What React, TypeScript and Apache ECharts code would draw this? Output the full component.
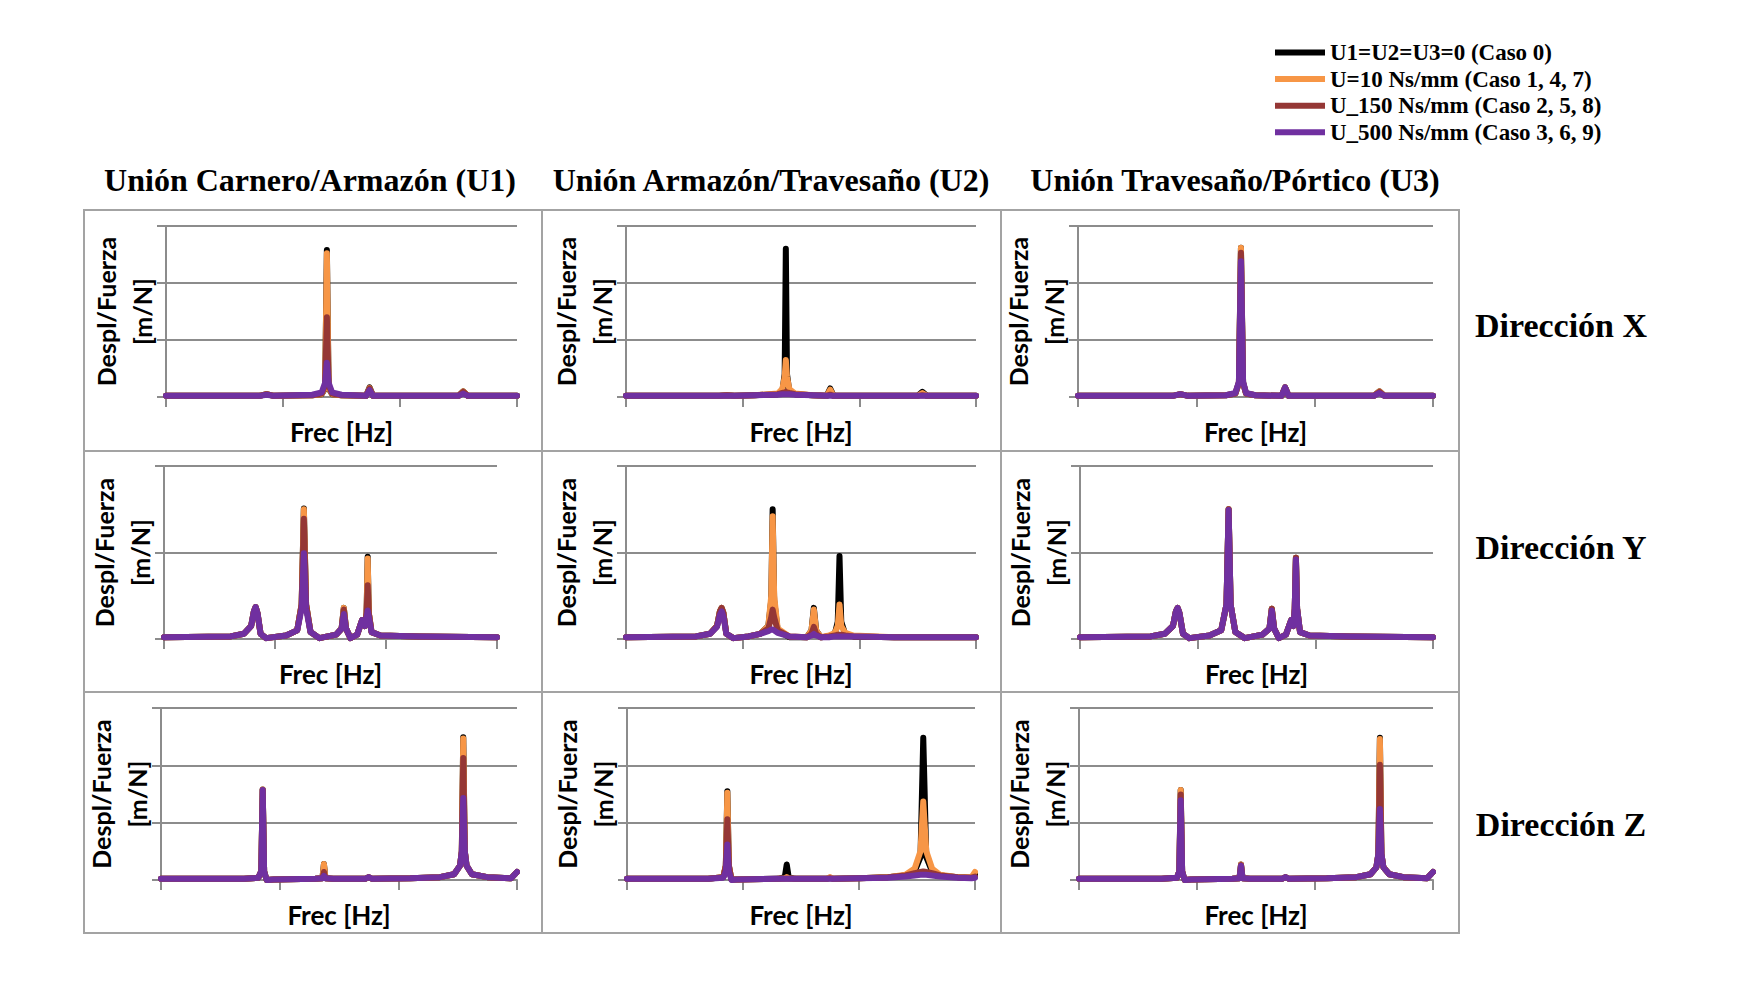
import React, { useEffect, useRef } from "react";
import * as echarts from "echarts";

// ---------- labels ----------
const SERIES_NAMES = [
  "U1=U2=U3=0 (Caso 0)",
  "U=10 Ns/mm (Caso 1, 4, 7)",
  "U_150 Ns/mm (Caso 2, 5, 8)",
  "U_500 Ns/mm (Caso 3, 6, 9)",
];
const SERIES_COLORS = ["#000000", "#F79646", "#953735", "#7030A0"];
const COLUMN_TITLES = ["Unión Carnero/Armazón (U1)", "Unión Armazón/Travesaño (U2)", "Unión Travesaño/Pórtico (U3)"];
const ROW_TITLES = ["Dirección X", "Dirección Y", "Dirección Z"];
const X_AXIS_NAME = "Frec [Hz]";
const Y_AXIS_NAME = "Despl/Fuerza\n[m/N]";
const Y_MAX_BY_ROW = [3, 2, 3];
const X_MAX = 3;

// ---------- Dirección X ----------
const freqXU1 = [0, 0.80, 0.86, 0.92, 1.25, 1.33, 1.36, 1.375, 1.39, 1.42, 1.50, 1.71, 1.74, 1.77, 2.50, 2.54, 2.58, 3];
const xU1Caso0 = [0.02, 0.02, 0.05, 0.02, 0.03, 0.05, 0.15, 2.58, 0.15, 0.05, 0.03, 0.02, 0.17, 0.02, 0.02, 0.10, 0.02, 0.02];
const xU1U10 = [0.02, 0.02, 0.05, 0.02, 0.03, 0.05, 0.16, 2.52, 0.16, 0.05, 0.03, 0.02, 0.16, 0.02, 0.02, 0.10, 0.02, 0.02];
const xU1U150 = [0.02, 0.02, 0.05, 0.02, 0.03, 0.06, 0.20, 1.40, 0.20, 0.06, 0.03, 0.02, 0.15, 0.02, 0.02, 0.09, 0.02, 0.02];
const xU1U500 = [0.02, 0.02, 0.04, 0.02, 0.04, 0.08, 0.25, 0.60, 0.25, 0.08, 0.04, 0.02, 0.12, 0.02, 0.02, 0.06, 0.02, 0.02];

const freqXU2 = [0, 0.80, 0.865, 0.93, 1.10, 1.30, 1.34, 1.36, 1.37, 1.38, 1.40, 1.45, 1.60, 1.72, 1.75, 1.78, 2.00, 2.50, 2.54, 2.58, 3];
const xU2Caso0 = [0.02, 0.02, 0.03, 0.02, 0.03, 0.05, 0.10, 0.40, 2.60, 0.40, 0.10, 0.05, 0.03, 0.02, 0.15, 0.02, 0.02, 0.02, 0.09, 0.02, 0.02];
const xU2U10 = [0.02, 0.02, 0.03, 0.02, 0.03, 0.06, 0.14, 0.35, 0.65, 0.35, 0.14, 0.06, 0.03, 0.02, 0.13, 0.02, 0.02, 0.02, 0.07, 0.02, 0.02];
const xU2U150 = [0.02, 0.02, 0.03, 0.02, 0.03, 0.05, 0.07, 0.08, 0.09, 0.08, 0.07, 0.05, 0.03, 0.02, 0.04, 0.02, 0.02, 0.02, 0.03, 0.02, 0.02];
const xU2U500 = [0.02, 0.02, 0.02, 0.02, 0.03, 0.04, 0.05, 0.05, 0.05, 0.05, 0.05, 0.04, 0.03, 0.02, 0.02, 0.02, 0.02, 0.02, 0.02, 0.02, 0.02];

const freqXU3 = [0, 0.80, 0.865, 0.93, 1.25, 1.33, 1.36, 1.377, 1.395, 1.42, 1.50, 1.72, 1.75, 1.78, 2.50, 2.547, 2.59, 3];
const xU3Caso0 = [0.02, 0.02, 0.05, 0.02, 0.03, 0.06, 0.25, 2.62, 0.25, 0.06, 0.03, 0.02, 0.17, 0.02, 0.02, 0.10, 0.02, 0.02];
const xU3U10 = [0.02, 0.02, 0.05, 0.02, 0.03, 0.06, 0.25, 2.62, 0.25, 0.06, 0.03, 0.02, 0.17, 0.02, 0.02, 0.10, 0.02, 0.02];
const xU3U150 = [0.02, 0.02, 0.05, 0.02, 0.03, 0.06, 0.25, 2.53, 0.25, 0.06, 0.03, 0.02, 0.17, 0.02, 0.02, 0.09, 0.02, 0.02];
const xU3U500 = [0.02, 0.02, 0.05, 0.02, 0.03, 0.07, 0.27, 2.38, 0.27, 0.07, 0.03, 0.02, 0.17, 0.02, 0.02, 0.07, 0.02, 0.02];

// ---------- Dirección Y ----------
const freqYU1 = [0, 0.60, 0.72, 0.785, 0.81, 0.826, 0.842, 0.87, 0.92, 1.10, 1.20, 1.24, 1.26, 1.28, 1.32, 1.40, 1.55, 1.60, 1.62, 1.64, 1.68, 1.74, 1.785, 1.81, 1.825, 1.835, 1.845, 1.87, 1.95, 2.30, 3];
const yU1Caso0 = [0.02, 0.03, 0.06, 0.15, 0.32, 0.37, 0.30, 0.06, 0.01, 0.04, 0.10, 0.40, 1.51, 0.40, 0.08, 0.01, 0.05, 0.12, 0.36, 0.12, 0.01, 0.05, 0.22, 0.15, 0.30, 0.95, 0.30, 0.08, 0.04, 0.03, 0.02];
const yU1U10 = [0.02, 0.03, 0.06, 0.15, 0.32, 0.37, 0.30, 0.06, 0.01, 0.04, 0.10, 0.40, 1.50, 0.40, 0.08, 0.01, 0.05, 0.12, 0.36, 0.12, 0.01, 0.05, 0.22, 0.15, 0.30, 0.93, 0.30, 0.08, 0.04, 0.03, 0.02];
const yU1U150 = [0.02, 0.03, 0.06, 0.15, 0.32, 0.37, 0.30, 0.06, 0.01, 0.04, 0.10, 0.40, 1.39, 0.40, 0.08, 0.01, 0.05, 0.12, 0.34, 0.12, 0.01, 0.05, 0.22, 0.15, 0.30, 0.62, 0.30, 0.08, 0.04, 0.03, 0.02];
const yU1U500 = [0.02, 0.03, 0.06, 0.15, 0.32, 0.37, 0.30, 0.06, 0.01, 0.04, 0.10, 0.35, 0.99, 0.35, 0.08, 0.01, 0.05, 0.12, 0.29, 0.12, 0.01, 0.05, 0.22, 0.15, 0.25, 0.33, 0.25, 0.08, 0.04, 0.03, 0.02];

const freqYU2 = [0, 0.60, 0.72, 0.78, 0.805, 0.82, 0.835, 0.86, 0.92, 1.05, 1.15, 1.22, 1.245, 1.257, 1.27, 1.30, 1.40, 1.55, 1.59, 1.61, 1.63, 1.67, 1.74, 1.79, 1.815, 1.83, 1.845, 1.88, 1.95, 2.30, 3];
const yU2Caso0 = [0.02, 0.03, 0.06, 0.15, 0.32, 0.36, 0.30, 0.06, 0.01, 0.03, 0.06, 0.15, 0.45, 1.50, 0.45, 0.10, 0.02, 0.02, 0.10, 0.36, 0.10, 0.02, 0.03, 0.06, 0.20, 0.96, 0.20, 0.05, 0.03, 0.02, 0.02];
const yU2U10 = [0.02, 0.03, 0.06, 0.15, 0.32, 0.36, 0.30, 0.06, 0.01, 0.03, 0.06, 0.15, 0.50, 1.42, 0.50, 0.12, 0.03, 0.02, 0.10, 0.34, 0.10, 0.02, 0.04, 0.07, 0.15, 0.40, 0.15, 0.07, 0.04, 0.02, 0.02];
const yU2U150 = [0.02, 0.03, 0.06, 0.15, 0.32, 0.36, 0.30, 0.06, 0.01, 0.03, 0.06, 0.12, 0.25, 0.34, 0.25, 0.10, 0.03, 0.02, 0.06, 0.14, 0.06, 0.02, 0.03, 0.04, 0.05, 0.05, 0.05, 0.04, 0.03, 0.02, 0.02];
const yU2U500 = [0.02, 0.03, 0.06, 0.14, 0.28, 0.32, 0.26, 0.06, 0.01, 0.03, 0.06, 0.09, 0.11, 0.11, 0.10, 0.07, 0.03, 0.02, 0.04, 0.06, 0.04, 0.02, 0.02, 0.03, 0.03, 0.03, 0.03, 0.03, 0.03, 0.02, 0.02];

const freqYU3 = [0, 0.60, 0.72, 0.79, 0.815, 0.83, 0.845, 0.875, 0.93, 1.10, 1.20, 1.245, 1.263, 1.28, 1.32, 1.40, 1.55, 1.61, 1.63, 1.65, 1.69, 1.75, 1.795, 1.815, 1.825, 1.835, 1.845, 1.87, 1.95, 2.30, 3];
const yU3Caso0 = [0.02, 0.03, 0.06, 0.15, 0.32, 0.36, 0.30, 0.06, 0.01, 0.04, 0.10, 0.40, 1.50, 0.40, 0.08, 0.01, 0.05, 0.12, 0.35, 0.12, 0.01, 0.05, 0.22, 0.15, 0.35, 0.94, 0.35, 0.08, 0.04, 0.03, 0.02];
const yU3U10 = [0.02, 0.03, 0.06, 0.15, 0.32, 0.36, 0.30, 0.06, 0.01, 0.04, 0.10, 0.40, 1.50, 0.40, 0.08, 0.01, 0.05, 0.12, 0.35, 0.12, 0.01, 0.05, 0.22, 0.15, 0.35, 0.94, 0.35, 0.08, 0.04, 0.03, 0.02];
const yU3U150 = [0.02, 0.03, 0.06, 0.15, 0.32, 0.36, 0.30, 0.06, 0.01, 0.04, 0.10, 0.40, 1.50, 0.40, 0.08, 0.01, 0.05, 0.12, 0.35, 0.12, 0.01, 0.05, 0.22, 0.15, 0.35, 0.94, 0.35, 0.08, 0.04, 0.03, 0.02];
const yU3U500 = [0.02, 0.03, 0.06, 0.15, 0.32, 0.36, 0.30, 0.06, 0.01, 0.04, 0.10, 0.40, 1.49, 0.40, 0.08, 0.01, 0.05, 0.12, 0.33, 0.12, 0.01, 0.05, 0.22, 0.15, 0.35, 0.92, 0.35, 0.08, 0.04, 0.03, 0.02];

// ---------- Dirección Z ----------
const freqZU1 = [0, 0.70, 0.82, 0.845, 0.857, 0.869, 0.89, 0.95, 1.30, 1.36, 1.373, 1.386, 1.45, 1.72, 1.75, 1.78, 2.10, 2.35, 2.47, 2.52, 2.535, 2.547, 2.56, 2.575, 2.62, 2.75, 2.95, 3];
const zU1Caso0 = [0.02, 0.02, 0.04, 0.15, 1.58, 0.15, 0.00, 0.01, 0.02, 0.03, 0.28, 0.03, 0.02, 0.02, 0.05, 0.02, 0.03, 0.05, 0.10, 0.25, 0.50, 2.49, 0.50, 0.25, 0.10, 0.05, 0.03, 0.14];
const zU1U10 = [0.02, 0.02, 0.04, 0.15, 1.58, 0.15, 0.00, 0.01, 0.02, 0.03, 0.28, 0.03, 0.02, 0.02, 0.05, 0.02, 0.03, 0.05, 0.10, 0.25, 0.50, 2.47, 0.50, 0.25, 0.10, 0.05, 0.03, 0.14];
const zU1U150 = [0.02, 0.02, 0.04, 0.15, 1.57, 0.15, 0.00, 0.01, 0.02, 0.03, 0.14, 0.03, 0.02, 0.02, 0.05, 0.02, 0.03, 0.05, 0.10, 0.25, 0.50, 2.13, 0.50, 0.25, 0.10, 0.05, 0.03, 0.14];
const zU1U500 = [0.02, 0.02, 0.04, 0.15, 1.57, 0.15, 0.00, 0.01, 0.02, 0.03, 0.07, 0.03, 0.02, 0.02, 0.05, 0.02, 0.03, 0.05, 0.10, 0.25, 0.50, 1.43, 0.50, 0.25, 0.10, 0.05, 0.03, 0.14];

const freqZU2 = [0, 0.70, 0.83, 0.852, 0.865, 0.878, 0.90, 0.95, 1.30, 1.36, 1.377, 1.394, 1.45, 1.72, 1.75, 1.78, 2.00, 2.25, 2.40, 2.48, 2.53, 2.554, 2.58, 2.63, 2.70, 2.85, 2.97, 3];
const zU2Caso0 = [0.02, 0.02, 0.05, 0.25, 1.55, 0.25, 0.01, 0.01, 0.02, 0.05, 0.27, 0.05, 0.02, 0.02, 0.04, 0.02, 0.03, 0.05, 0.08, 0.15, 0.40, 2.48, 0.40, 0.15, 0.08, 0.05, 0.04, 0.10];
const zU2U10 = [0.02, 0.02, 0.05, 0.25, 1.52, 0.25, 0.01, 0.01, 0.02, 0.03, 0.05, 0.03, 0.02, 0.02, 0.05, 0.02, 0.03, 0.05, 0.09, 0.20, 0.50, 1.37, 0.50, 0.20, 0.09, 0.05, 0.05, 0.14];
const zU2U150 = [0.02, 0.02, 0.05, 0.25, 1.06, 0.25, 0.01, 0.01, 0.02, 0.02, 0.02, 0.02, 0.02, 0.02, 0.03, 0.02, 0.03, 0.05, 0.08, 0.12, 0.14, 0.15, 0.14, 0.12, 0.08, 0.05, 0.04, 0.06];
const zU2U500 = [0.02, 0.02, 0.04, 0.15, 0.62, 0.15, 0.00, 0.01, 0.02, 0.02, 0.02, 0.02, 0.02, 0.02, 0.02, 0.02, 0.03, 0.04, 0.06, 0.08, 0.09, 0.09, 0.09, 0.08, 0.06, 0.04, 0.03, 0.04];

const freqZU3 = [0, 0.70, 0.83, 0.85, 0.862, 0.874, 0.895, 0.95, 1.30, 1.36, 1.373, 1.386, 1.45, 1.72, 1.75, 1.78, 2.10, 2.35, 2.47, 2.52, 2.537, 2.55, 2.563, 2.58, 2.63, 2.75, 2.95, 3];
const zU3Caso0 = [0.02, 0.02, 0.04, 0.15, 1.57, 0.15, 0.00, 0.01, 0.02, 0.03, 0.27, 0.03, 0.02, 0.02, 0.05, 0.02, 0.03, 0.05, 0.10, 0.22, 0.45, 2.48, 0.45, 0.22, 0.10, 0.05, 0.03, 0.14];
const zU3U10 = [0.02, 0.02, 0.04, 0.15, 1.57, 0.15, 0.00, 0.01, 0.02, 0.03, 0.27, 0.03, 0.02, 0.02, 0.05, 0.02, 0.03, 0.05, 0.10, 0.22, 0.45, 2.46, 0.45, 0.22, 0.10, 0.05, 0.03, 0.14];
const zU3U150 = [0.02, 0.02, 0.04, 0.15, 1.49, 0.15, 0.00, 0.01, 0.02, 0.03, 0.26, 0.03, 0.02, 0.02, 0.05, 0.02, 0.03, 0.05, 0.10, 0.22, 0.45, 2.01, 0.45, 0.22, 0.10, 0.05, 0.03, 0.14];
const zU3U500 = [0.02, 0.02, 0.04, 0.15, 1.39, 0.15, 0.00, 0.01, 0.02, 0.03, 0.25, 0.03, 0.02, 0.02, 0.05, 0.02, 0.03, 0.05, 0.10, 0.22, 0.45, 1.24, 0.45, 0.22, 0.10, 0.05, 0.03, 0.14];

const PANELS = [
  { freq: freqXU1, curves: [xU1Caso0, xU1U10, xU1U150, xU1U500] },
  { freq: freqXU2, curves: [xU2Caso0, xU2U10, xU2U150, xU2U500] },
  { freq: freqXU3, curves: [xU3Caso0, xU3U10, xU3U150, xU3U500] },
  { freq: freqYU1, curves: [yU1Caso0, yU1U10, yU1U150, yU1U500] },
  { freq: freqYU2, curves: [yU2Caso0, yU2U10, yU2U150, yU2U500] },
  { freq: freqYU3, curves: [yU3Caso0, yU3U10, yU3U150, yU3U500] },
  { freq: freqZU1, curves: [zU1Caso0, zU1U10, zU1U150, zU1U500] },
  { freq: freqZU2, curves: [zU2Caso0, zU2U10, zU2U150, zU2U500] },
  { freq: freqZU3, curves: [zU3Caso0, zU3U10, zU3U150, zU3U500] },
];

// ---------- layout (pixels) ----------
const GRID_RECTS = [
  [166, 226, 351, 171], [626, 226, 350, 171], [1078, 226, 355, 171],
  [164, 466, 333, 173], [626, 466, 350, 173], [1080, 466, 353, 173],
  [161, 708, 356, 172], [627, 708, 348, 172], [1079, 708, 354, 172],
];
const TABLE = { left: 84, top: 210, right: 1459, bottom: 933, cols: [542, 1001], rows: [451, 692] };
const COL_TITLE_X = [310, 771, 1235];
const COL_TITLE_Y = 180;
const ROW_TITLE_X = 1561;
const ROW_TITLE_Y = [325, 547, 824];

const GRAY = "#8c8c8c";
const BORDER = "#a3a3a3";
const SANS = "Lato";
const SERIF = "Liberation Serif";

function buildOption() {
  const grid: any[] = [];
  const xAxis: any[] = [];
  const yAxis: any[] = [];
  const series: any[] = [];
  PANELS.forEach((p, i) => {
    const row = Math.floor(i / 3);
    const [l, t, w, h] = GRID_RECTS[i];
    grid.push({ left: l, top: t, width: w, height: h });
    xAxis.push({
      type: "value", gridIndex: i, min: 0, max: X_MAX, interval: 1,
      name: X_AXIS_NAME, nameLocation: "middle", nameGap: 22,
      nameTextStyle: { fontFamily: SANS, fontWeight: "bold", fontSize: 26, color: "#000" },
      axisLine: { show: true, lineStyle: { color: GRAY, width: 2 } },
      axisTick: { show: true, length: 10, lineStyle: { color: GRAY, width: 2 } },
      axisLabel: { show: false },
      splitLine: { show: false },
    });
    yAxis.push({
      type: "value", gridIndex: i, min: 0, max: Y_MAX_BY_ROW[row], interval: 1,
      name: Y_AXIS_NAME, nameLocation: "middle", nameGap: 6,
      nameTextStyle: { fontFamily: SANS, fontWeight: "bold", fontSize: 25, lineHeight: 36, color: "#000", align: "center" },
      axisLine: { show: true, lineStyle: { color: GRAY, width: 2 } },
      axisTick: { show: true, length: 9, lineStyle: { color: GRAY, width: 2 } },
      axisLabel: { show: false },
      splitLine: { show: true, lineStyle: { color: GRAY, width: 2 } },
    });
    p.curves.forEach((c, s) => {
      series.push({
        type: "line", name: SERIES_NAMES[s], xAxisIndex: i, yAxisIndex: i,
        data: p.freq.map((f, k) => [f, c[k]]),
        showSymbol: false, symbol: "none", silent: true, z: 2 + s,
        lineStyle: { color: SERIES_COLORS[s], width: 6, cap: "round", join: "round" },
        itemStyle: { color: SERIES_COLORS[s] },
      });
    });
  });

  const graphic: any[] = [
    { type: "rect", shape: { x: TABLE.left, y: TABLE.top, width: TABLE.right - TABLE.left, height: TABLE.bottom - TABLE.top }, style: { fill: "none", stroke: BORDER, lineWidth: 2 }, silent: true },
    ...TABLE.cols.map((x) => ({ type: "line", shape: { x1: x, y1: TABLE.top, x2: x, y2: TABLE.bottom }, style: { stroke: BORDER, lineWidth: 2 }, silent: true })),
    ...TABLE.rows.map((y) => ({ type: "line", shape: { x1: TABLE.left, y1: y, x2: TABLE.right, y2: y }, style: { stroke: BORDER, lineWidth: 2 }, silent: true })),
    ...COLUMN_TITLES.map((t, i) => ({
      type: "text", x: COL_TITLE_X[i], y: COL_TITLE_Y, silent: true,
      style: { text: t, fontFamily: SERIF, fontWeight: "bold", fontSize: 32, fill: "#000", align: "center", verticalAlign: "middle" },
    })),
    ...ROW_TITLES.map((t, i) => ({
      type: "text", x: ROW_TITLE_X, y: ROW_TITLE_Y[i], silent: true,
      style: { text: t, fontFamily: SERIF, fontWeight: "bold", fontSize: 34, fill: "#000", align: "center", verticalAlign: "middle" },
    })),
  ];

  return {
    animation: false,
    backgroundColor: "#ffffff",
    legend: {
      orient: "vertical", left: 1270, top: 36, itemWidth: 50, itemHeight: 6, itemGap: 3.6,
      icon: "rect", selectedMode: false, data: SERIES_NAMES,
      textStyle: { fontFamily: SERIF, fontWeight: "bold", fontSize: 23, lineHeight: 22, color: "#000" },
    },
    grid, xAxis, yAxis, series, graphic,
  };
}

export default function App() {
  const ref = useRef<HTMLDivElement>(null);
  useEffect(() => {
    if (!ref.current) return;
    const chart = echarts.init(ref.current, null, { renderer: "svg" });
    chart.setOption(buildOption());
    return () => chart.dispose();
  }, []);
  return <div ref={ref} style={{ position: "fixed", left: 0, top: 0, width: 1750, height: 1000, background: "#fff" }} />;
}
